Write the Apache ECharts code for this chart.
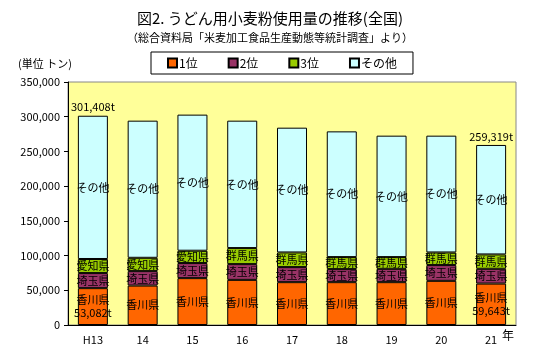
<!DOCTYPE html>
<html><head><meta charset="utf-8">
<script src="https://cdn.jsdelivr.net/npm/echarts@6/dist/echarts.min.js"></script>
<style>html,body{margin:0;padding:0;background:#fff}#c{width:540px;height:350px}</style>
</head><body><div id="c"></div>
<script>
var categories = ['H13','14','15','16','17','18','19','20','21'];
var rank1 = [53082, 56800, 67500, 65000, 61700, 61700, 61700, 63600, 59643];
var rank2 = [21700, 20800, 21700, 22700, 21700, 18800, 19200, 22700, 21300];
var rank3 = [20300, 19200, 17800, 23100, 21100, 17300, 16900, 18200, 20700];
var totals = [301408, 294300, 303000, 294300, 284200, 278900, 272700, 272700, 259319];
var rank1Names = ['香川県','香川県','香川県','香川県','香川県','香川県','香川県','香川県','香川県'];
var rank2Names = ['埼玉県','埼玉県','埼玉県','埼玉県','埼玉県','埼玉県','埼玉県','埼玉県','埼玉県'];
var rank3Names = ['愛知県','愛知県','愛知県','群馬県','群馬県','群馬県','群馬県','群馬県','群馬県'];
var seriesNames = ['1位','2位','3位','その他'];
var yTicks = [0,50000,100000,150000,200000,250000,300000,350000];
var others = totals.map(function(t,i){return t - rank1[i] - rank2[i] - rank3[i];});
var annotated = [0, 8];

var FONT = '"Noto Sans CJK JP", sans-serif';
function fmt(v){return v.toString().replace(/\B(?=(\d{3})+(?!\d))/g, ',');}
var chart = echarts.init(document.getElementById('c'));
var border = {borderColor:'#000', borderWidth:1};
var lbl = {show:true, position:'inside', color:'#000', fontSize:11, fontFamily:FONT, lineHeight:13};
chart.setOption({
  animation:false,
  backgroundColor:'#fff',
  title:[{text:'図2. うどん用小麦粉使用量の推移(全国)', left:'center', top:6,
    textStyle:{fontSize:15, fontWeight:'normal', color:'#000', fontFamily:FONT}},
    {text:'（総合資料局「米麦加工食品生産動態等統計調査」より）', left:'center', top:27,
    textStyle:{fontSize:11, fontWeight:'normal', color:'#000', fontFamily:FONT}}],
  legend:{data:seriesNames, left:151, top:52, width:237, height:18, borderColor:'#000', borderWidth:1,
    padding:[5,16,5,16], itemGap:30, itemWidth:9, itemHeight:9, icon:'rect',
    textStyle:{fontSize:12, color:'#000', fontFamily:FONT, padding:[0,0,0,-3]}},
  graphic:[
    {type:'text', left:18, top:58, style:{text:'(単位 トン)', fontSize:11, fill:'#000', fontFamily:FONT}},
    {type:'text', left:502, top:329, style:{text:'年', fontSize:12, fill:'#000', fontFamily:FONT}}
  ],
  grid:{left:68, right:24, top:82, bottom:25, show:true, backgroundColor:'#FFFF99', borderColor:'#888', borderWidth:1},
  xAxis:{type:'category', data:categories,
    axisLine:{lineStyle:{color:'#000', width:1}},
    axisTick:{inside:true, length:4, lineStyle:{color:'#000'}},
    axisLabel:{color:'#000', fontSize:11, fontFamily:FONT, margin:9}},
  yAxis:{type:'value', min:0, max:350000, interval:50000,
    axisLine:{show:true, lineStyle:{color:'#000', width:1}},
    axisTick:{show:true, length:4, lineStyle:{color:'#000'}},
    splitLine:{show:false},
    axisLabel:{color:'#000', fontSize:11, fontFamily:FONT, margin:8, formatter:function(v){return yTicks.indexOf(v)>=0?fmt(v):'';}}},
  series:[
    {name:'1位', type:'bar', stack:'s', barWidth:30, data:rank1,
      itemStyle:Object.assign({color:'#FF6600'}, border),
      label:Object.assign({}, lbl, {formatter:function(p){return annotated.indexOf(p.dataIndex)>=0 ? rank1Names[p.dataIndex]+'\n'+fmt(p.value)+'t' : rank1Names[p.dataIndex];}})},
    {name:'2位', type:'bar', stack:'s', data:rank2,
      itemStyle:Object.assign({color:'#993366'}, border),
      label:Object.assign({}, lbl, {formatter:function(p){return rank2Names[p.dataIndex];}})},
    {name:'3位', type:'bar', stack:'s', data:rank3,
      itemStyle:Object.assign({color:'#99CC00'}, border),
      label:Object.assign({}, lbl, {formatter:function(p){return rank3Names[p.dataIndex];}})},
    {name:'その他', type:'bar', stack:'s', data:others,
      itemStyle:Object.assign({color:'#CCFFFF'}, border),
      label:Object.assign({}, lbl, {formatter:'その他'})},
    {name:'total', type:'bar', stack:'s', data:totals.map(function(){return 0;}),
      itemStyle:{color:'rgba(0,0,0,0)', borderWidth:0},
      label:{show:true, position:'top', distance:3, color:'#000', fontSize:11, fontFamily:FONT,
        formatter:function(p){return annotated.indexOf(p.dataIndex)>=0 ? fmt(totals[p.dataIndex])+'t' : '';}}}
  ]
});
</script></body></html>
